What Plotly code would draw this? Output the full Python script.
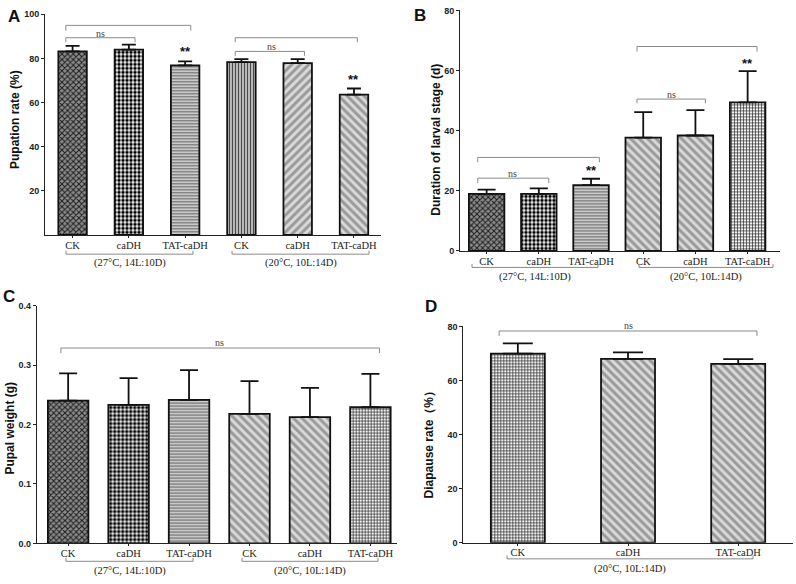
import plotly.graph_objects as go

W, H = 796, 584

# ---------------- data ----------------
cats6 = ["CK", "caDH", "TAT-caDH", "CK", "caDH", "TAT-caDH"]
cats3 = ["CK", "caDH", "TAT-caDH"]
groups = ["(27°C, 14L:10D)", "(20°C, 10L:14D)"]

pupation_mean = [83.2, 84.0, 76.9, 78.3, 77.9, 63.6]
pupation_sem = [2.5, 2.3, 1.8, 1.4, 1.8, 2.8]

larval_mean = [19.0, 19.0, 21.9, 37.7, 38.4, 49.4]
larval_sem = [1.4, 1.8, 2.1, 8.5, 8.4, 10.4]

pupal_mean = [0.240, 0.233, 0.2415, 0.218, 0.2125, 0.229]
pupal_sem = [0.046, 0.045, 0.050, 0.055, 0.049, 0.056]

diapause_mean = [69.9, 68.0, 66.1]
diapause_sem = [3.8, 2.4, 1.8]

A_ticks = [20, 40, 60, 80, 100]
B_ticks = [0, 20, 40, 60, 80]
C_ticks = [0.0, 0.1, 0.2, 0.3, 0.4]
D_ticks = [0, 20, 40, 60, 80]

# ---------------- styles ----------------
STY = {
    "dark":   dict(shape="x", fg="#1e1e1e", bg="#8c8c8c", size=4, sol=0.45),
    "check":  dict(shape=".", fg="#000000", bg="#ffffff", size=4, sol=0.6),
    "hline":  dict(shape="-", fg="#666666", bg="#dedede", size=3, sol=0.45),
    "vline":  dict(shape="|", fg="#4a4a4a", bg="#cfcfcf", size=3, sol=0.45),
    "diagA":  dict(shape="/", fg="#9a9a9a", bg="#dadada", size=6, sol=0.5),
    "diagB":  dict(shape="\\", fg="#9a9a9a", bg="#dadada", size=6, sol=0.5),
    "grid":   dict(shape="+", fg="#2a2a2a", bg="#f2f2f2", size=3, sol=0.4),
}
A_sty = ["dark", "check", "hline", "vline", "diagA", "diagB"]
B_sty = ["dark", "check", "hline", "diagB", "diagB", "grid"]
C_sty = ["dark", "check", "hline", "diagB", "diagB", "grid"]
D_sty = ["grid", "diagB", "diagB"]

SANS = "Liberation Sans"
SERIF = "Liberation Serif"

def ypap(p):
    return 1 - p / H

def xpap(p):
    return p / W

fig = go.Figure()

def add_bars(n, means, sems, styles, width, capw):
    xa = "x" if n == 1 else f"x{n}"
    ya = "y" if n == 1 else f"y{n}"
    for i, (m, s, st) in enumerate(zip(means, sems, styles)):
        S = STY[st]
        fig.add_trace(go.Bar(
            x=[i], y=[m], width=width, xaxis=xa, yaxis=ya,
            marker=dict(
                color=S["bg"],
                line=dict(color="#111111", width=1.8),
                pattern=dict(shape=S["shape"], fgcolor=S["fg"], bgcolor=S["bg"],
                             size=S["size"], solidity=S["sol"],
                             fillmode="replace", fgopacity=1),
            ),
            error_y=dict(type="data", symmetric=False, array=[s], arrayminus=[0],
                         color="#111111", thickness=1.8, width=capw),
            showlegend=False, hoverinfo="skip",
        ))

add_bars(1, pupation_mean, pupation_sem, A_sty, 0.506, 7)
add_bars(2, larval_mean, larval_sem, B_sty, 0.68, 9)
add_bars(3, pupal_mean, pupal_sem, C_sty, 0.67, 9)
add_bars(4, diapause_mean, diapause_sem, D_sty, 0.49, 15)

# ---------------- axes ----------------
def yax(domain, rng, ticks, anchor, fmt=None):
    d = dict(domain=domain, range=rng, tickvals=ticks, showgrid=False, anchor=anchor,
             zeroline=False, showline=True, linecolor="#222", linewidth=1,
             ticks="outside", ticklen=3, tickcolor="#222",
             tickfont=dict(family=SANS, size=9, color="#222", weight="bold"))
    if fmt:
        d["tickformat"] = fmt
    return d

def xax(domain, rng, anchor, cats):
    return dict(domain=domain, range=rng, anchor=anchor, showgrid=False,
                zeroline=False, showline=True, linecolor="#222", linewidth=1,
                tickvals=list(range(len(cats))), ticktext=cats,
                ticks="outside", ticklen=2, tickcolor="#222", ticklabelstandoff=-2,
                tickfont=dict(family=SERIF, size=10.5, color="#222"))

fig.update_layout(
    width=W, height=H, margin=dict(l=0, r=0, t=0, b=0),
    paper_bgcolor="white", plot_bgcolor="white", barmode="overlay",
    xaxis=xax([xpap(45), xpap(381)], [-0.49, 5.48], "y", cats6),
    yaxis=yax([ypap(234), ypap(9.5)], [0, 100], A_ticks, "x"),
    xaxis2=xax([xpap(460), xpap(780)], [-0.51, 5.62], "y2", cats6),
    yaxis2=yax([ypap(250.2), ypap(5.5)], [0, 80], B_ticks, "x2"),
    xaxis3=xax([xpap(36.7), xpap(397)], [-0.52, 5.44], "y3", cats6),
    yaxis3=yax([ypap(547.8), ypap(305.8)], [0, 0.4], C_ticks, "x3", ".1f"),
    xaxis4=xax([xpap(463.3), xpap(793.3)], [-0.495, 2.5], "y4", cats3),
    yaxis4=yax([ypap(547), ypap(327)], [0, 80], D_ticks, "x4"),
)

shapes = []
annots = []

BR = "#8a8a8a"

def sig_bracket(n, x0, x1, y_line, y_tick):
    xr = "x" if n == 1 else f"x{n}"
    yr = "y" if n == 1 else f"y{n}"
    shapes.append(dict(type="path", xref=xr, yref=yr,
                       path=f"M {x0},{y_tick} L {x0},{y_line} L {x1},{y_line} L {x1},{y_tick}",
                       line=dict(color=BR, width=1)))

def txt(n, x, y, s, size, bold=False, family=SERIF, color="#444"):
    xr = "x" if n == 1 else f"x{n}"
    yr = "y" if n == 1 else f"y{n}"
    annots.append(dict(xref=xr, yref=yr, x=x, y=y, text=s, showarrow=False,
                       xanchor="center", yanchor="middle",
                       font=dict(family=family, size=size, color=color,
                                 weight="bold" if bold else "normal")))

# Panel A significance
sig_bracket(1, -0.12, 2.1, 95.0, 92.6)
sig_bracket(1, -0.12, 1.11, 89.4, 87.4)
txt(1, 0.49, 91.4, "ns", 10)
txt(1, 2, 83.0, "**", 13, True, SANS, "#111")
sig_bracket(1, 2.89, 5.06, 89.4, 87.4)
sig_bracket(1, 2.89, 4.12, 83.2, 81.2)
txt(1, 3.54, 85.3, "ns", 10)
txt(1, 5, 70.6, "**", 13, True, SANS, "#111")

# Panel B significance
sig_bracket(2, -0.17, 2.16, 31.1, 29.5)
sig_bracket(2, -0.17, 1.19, 24.2, 22.6)
txt(2, 0.5, 25.6, "ns", 10)
txt(2, 2, 26.6, "**", 13, True, SANS, "#111")
sig_bracket(2, 2.88, 5.18, 68.0, 66.3)
sig_bracket(2, 2.88, 4.19, 50.5, 49.1)
txt(2, 3.55, 51.9, "ns", 10)
txt(2, 5, 62.5, "**", 13, True, SANS, "#111")

# Panel C significance
sig_bracket(3, -0.12, 5.15, 0.3286, 0.320)
txt(3, 2.5, 0.3375, "ns", 10)

# Panel D significance (label sits at the top of the range -> paper coords)
sig_bracket(4, -0.17, 2.17, 78.3, 76.5)
annots.append(dict(xref="x4", yref="paper", x=1.0, y=ypap(326.5), text="ns",
                   showarrow=False, xanchor="center", yanchor="middle",
                   font=dict(family=SERIF, size=10, color="#444")))

# group brackets below x axes (pixel positions)
def group_bracket(x0, x1, yline, ytick, label, ylab):
    shapes.append(dict(type="path", xref="paper", yref="paper",
                       path=f"M {xpap(x0)},{ypap(ytick)} L {xpap(x0)},{ypap(yline)} "
                            f"L {xpap(x1)},{ypap(yline)} L {xpap(x1)},{ypap(ytick)}",
                       line=dict(color=BR, width=1)))
    annots.append(dict(xref="paper", yref="paper", x=xpap((x0 + x1) / 2), y=ypap(ylab),
                       text=label, showarrow=False, xanchor="center", yanchor="middle",
                       font=dict(family=SERIF, size=10.5, color="#222")))

group_bracket(66, 193, 253.5, 250, groups[0], 262.5)
group_bracket(232, 369, 253.5, 250, groups[1], 262.5)
group_bracket(472, 598, 267, 263.5, groups[0], 276.5)
group_bracket(639, 773, 267, 263.5, groups[1], 276.5)
group_bracket(66, 193, 566, 562.5, groups[0], 575.5)
group_bracket(242, 378, 566, 562.5, groups[1], 575.5)
group_bracket(507, 753, 563.5, 560, groups[1], 573.5)

# y titles
def ytitle(x, y, s):
    annots.append(dict(xref="paper", yref="paper", x=xpap(x), y=ypap(y), text=s,
                       textangle=-90, showarrow=False, xanchor="center", yanchor="middle",
                       font=dict(family=SANS, size=12, color="#111", weight="bold")))

ytitle(15, 117, "Pupation rate (%)")
ytitle(436, 137, "Duration of larval stage (d)")
ytitle(10, 431, "Pupal weight (g)")
ytitle(429, 445, "Diapause rate（%）")

# panel letters
for lx, ly, s in [(14, 12, "A"), (420, 11, "B"), (9, 297, "C"), (431, 307, "D")]:
    annots.append(dict(xref="paper", yref="paper", x=xpap(lx), y=ypap(ly), text=s,
                       showarrow=False, xanchor="center", yanchor="middle",
                       font=dict(family=SANS, size=17, color="#111", weight="bold")))

fig.update_layout(shapes=shapes, annotations=annots)

css_fix = (
    "var h=document.documentElement,b=document.body;"
    "h.style.margin='0';h.style.padding='0';h.style.overflow='hidden';"
    "b.style.margin='0';b.style.padding='0';b.style.overflow='hidden';"
    "var g=document.getElementById('{plot_id}');"
    "if(g&&g.parentElement){g.parentElement.style.lineHeight='0';"
    "g.parentElement.style.height='584px';g.parentElement.style.overflow='hidden';}"
)
fig.write_html("out.html", config={"displayModeBar": False, "responsive": False},
               post_script=css_fix)
